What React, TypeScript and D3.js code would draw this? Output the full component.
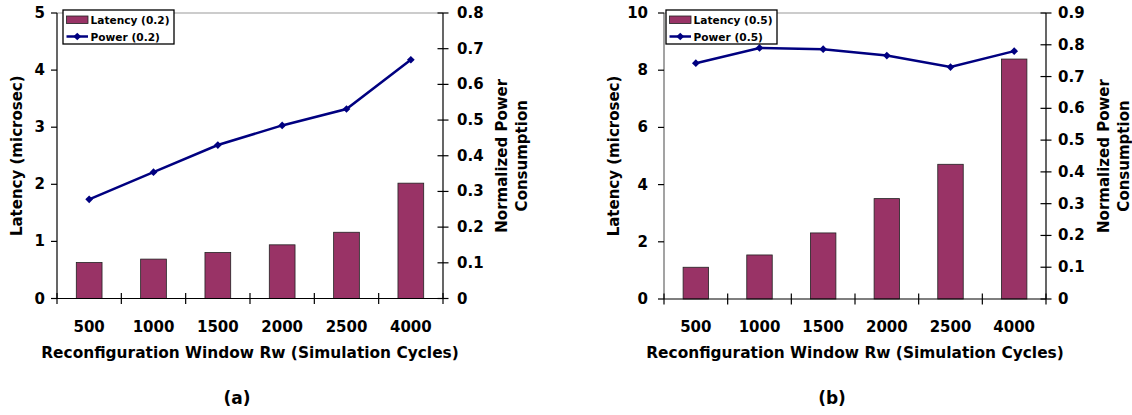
import React, { useEffect, useRef } from 'react';
import * as d3 from 'd3';

const categories = ['500', '1000', '1500', '2000', '2500', '4000'];

const latencyA = [0.63, 0.69, 0.805, 0.94, 1.16, 2.02];
const powerA = [0.278, 0.354, 0.43, 0.485, 0.531, 0.669];
const latencyTicksA = [0, 1, 2, 3, 4, 5];
const powerTicksA = [0, 0.1, 0.2, 0.3, 0.4, 0.5, 0.6, 0.7, 0.8];

const latencyB = [1.11, 1.54, 2.31, 3.51, 4.71, 8.39];
const powerB = [0.742, 0.79, 0.786, 0.766, 0.73, 0.78];
const latencyTicksB = [0, 2, 4, 6, 8, 10];
const powerTicksB = [0, 0.1, 0.2, 0.3, 0.4, 0.5, 0.6, 0.7, 0.8, 0.9];

const BAR = '#993366';
const LINE = '#000080';
const FONT = '"DejaVu Sans", Verdana, sans-serif';

const panels = [
  {
    latency: latencyA, power: powerA, lTicks: latencyTicksA, rTicks: powerTicksA,
    legendL: 'Latency (0.2)', legendP: 'Power (0.2)', caption: '(a)',
    left: 57, right: 443, top: 13, bottom: 298.5,
    lLabelX: 45, rLabelX: 457, yTitleX: 17, rTitleX: 501.5, legendX: 63, captionX: 237,
    leftAxisColor: '#000',
  },
  {
    latency: latencyB, power: powerB, lTicks: latencyTicksB, rTicks: powerTicksB,
    legendL: 'Latency (0.5)', legendP: 'Power (0.5)', caption: '(b)',
    left: 664, right: 1046, top: 13, bottom: 299,
    lLabelX: 648, rLabelX: 1058, yTitleX: 614, rTitleX: 1103.5, legendX: 666, captionX: 832,
    leftAxisColor: '#666',
  },
];

function drawPanel(svg, p) {
  const g = svg.append('g');
  const x = d3.scaleBand().domain(categories).range([p.left, p.right]).paddingInner(0.6).paddingOuter(0.3);
  const yL = d3.scaleLinear().domain([0, d3.max(p.lTicks)]).range([p.bottom, p.top]);
  const yR = d3.scaleLinear().domain([0, d3.max(p.rTicks)]).range([p.bottom, p.top]);
  const cx = (i) => x(categories[i]) + x.bandwidth() / 2;

  // plot area top border
  g.append('line')
    .attr('x1', p.left).attr('x2', p.right).attr('y1', p.top).attr('y2', p.top)
    .attr('stroke', '#999').attr('stroke-width', 1);

  // bars
  g.selectAll('rect.bar')
    .data(p.latency)
    .enter()
    .append('rect')
    .attr('class', 'bar')
    .attr('x', (d, i) => x(categories[i]))
    .attr('y', (d) => yL(d))
    .attr('width', x.bandwidth())
    .attr('height', (d) => yL(0) - yL(d))
    .attr('fill', BAR)
    .attr('stroke', '#222')
    .attr('stroke-width', 0.8);

  // left axis
  g.append('line')
    .attr('x1', p.left).attr('x2', p.left).attr('y1', p.top).attr('y2', p.bottom)
    .attr('stroke', p.leftAxisColor).attr('stroke-width', 1.2);
  p.lTicks.forEach((t) => {
    g.append('line')
      .attr('x1', p.left - 6).attr('x2', p.left).attr('y1', yL(t)).attr('y2', yL(t))
      .attr('stroke', '#000').attr('stroke-width', 1.2);
    g.append('text')
      .attr('x', p.lLabelX).attr('y', yL(t))
      .attr('text-anchor', 'end').attr('dominant-baseline', 'central')
      .style('font-size', '15px').style('font-weight', 'bold').style('font-family', FONT)
      .text(d3.format('d')(t));
  });

  // right axis
  g.append('line')
    .attr('x1', p.right).attr('x2', p.right).attr('y1', p.top).attr('y2', p.bottom)
    .attr('stroke', '#000').attr('stroke-width', 1.2);
  p.rTicks.forEach((t) => {
    g.append('line')
      .attr('x1', p.right - 5.5).attr('x2', p.right + 5.5).attr('y1', yR(t)).attr('y2', yR(t))
      .attr('stroke', '#000').attr('stroke-width', 1.2);
    g.append('text')
      .attr('x', p.rLabelX).attr('y', yR(t))
      .attr('text-anchor', 'start').attr('dominant-baseline', 'central')
      .style('font-size', '15px').style('font-weight', 'bold').style('font-family', FONT)
      .text(t === 0 ? '0' : d3.format('.1f')(t));
  });

  // x axis
  g.append('line')
    .attr('x1', p.left).attr('x2', p.right).attr('y1', p.bottom).attr('y2', p.bottom)
    .attr('stroke', '#000').attr('stroke-width', 1.2);
  d3.range(categories.length + 1).forEach((i) => {
    const bx = p.left + i * x.step();
    g.append('line')
      .attr('x1', bx).attr('x2', bx).attr('y1', p.bottom - 5.5).attr('y2', p.bottom + 5.5)
      .attr('stroke', '#000').attr('stroke-width', 1.2);
  });
  categories.forEach((c, i) => {
    g.append('text')
      .attr('x', cx(i)).attr('y', 326.5)
      .attr('text-anchor', 'middle').attr('dominant-baseline', 'central')
      .style('font-size', '15px').style('font-weight', 'bold').style('font-family', FONT)
      .text(c);
  });

  // power line
  const line = d3.line()
    .x((d, i) => cx(i))
    .y((d) => yR(d));
  g.append('path')
    .datum(p.power)
    .attr('d', line)
    .attr('fill', 'none')
    .attr('stroke', LINE)
    .attr('stroke-width', 2.5);
  const marker = d3.symbol().type(d3.symbolSquare).size(30);
  g.selectAll('path.mk')
    .data(p.power)
    .enter()
    .append('path')
    .attr('class', 'mk')
    .attr('d', marker)
    .attr('transform', (d, i) => `translate(${cx(i)}, ${yR(d)}) rotate(45)`)
    .attr('fill', LINE);

  // titles
  g.append('text')
    .attr('transform', `translate(${p.yTitleX}, ${(p.top + p.bottom) / 2}) rotate(-90)`)
    .attr('text-anchor', 'middle').attr('dominant-baseline', 'central')
    .style('font-size', '15px').style('font-weight', 'bold').style('font-family', FONT)
    .text('Latency (microsec)');
  ['Normalized Power', 'Consumption'].forEach((s, k) => {
    g.append('text')
      .attr('transform', `translate(${p.rTitleX + k * 20}, ${(p.top + p.bottom) / 2}) rotate(-90)`)
      .attr('text-anchor', 'middle').attr('dominant-baseline', 'central')
      .style('font-size', '15px').style('font-weight', 'bold').style('font-family', FONT)
      .text(s);
  });
  g.append('text')
    .attr('x', (p.left + p.right) / 2).attr('y', 353)
    .attr('text-anchor', 'middle').attr('dominant-baseline', 'central')
    .style('font-size', '15.4px').style('font-weight', 'bold').style('font-family', FONT)
    .text('Reconfiguration Window Rw (Simulation Cycles)');
  g.append('text')
    .attr('x', p.captionX).attr('y', 398)
    .attr('text-anchor', 'middle').attr('dominant-baseline', 'central')
    .style('font-size', '17px').style('font-weight', 'bold').style('font-family', FONT)
    .text(p.caption);

  // legend
  const lg = g.append('g').attr('transform', `translate(${p.legendX}, 10)`);
  lg.append('rect')
    .attr('x', 0).attr('y', 0).attr('width', 111).attr('height', 34)
    .attr('fill', '#fff').attr('stroke', '#000').attr('stroke-width', 1.3);
  lg.append('rect')
    .attr('x', 3.5).attr('y', 6).attr('width', 21.5).attr('height', 7.5)
    .attr('fill', BAR).attr('stroke', '#222').attr('stroke-width', 0.8);
  lg.append('line')
    .attr('x1', 3.5).attr('x2', 25).attr('y1', 26.5).attr('y2', 26.5)
    .attr('stroke', LINE).attr('stroke-width', 2.5);
  lg.append('path')
    .attr('d', marker)
    .attr('transform', 'translate(14.25, 26.5) rotate(45)')
    .attr('fill', LINE);
  [p.legendL, p.legendP].forEach((s, k) => {
    lg.append('text')
      .attr('x', 27.5).attr('y', 10 + k * 16.5)
      .attr('dominant-baseline', 'central')
      .style('font-size', '10.6px').style('font-weight', 'bold').style('font-family', FONT)
      .text(s);
  });
}

export default function App() {
  const ref = useRef(null);

  useEffect(() => {
    const root = d3.select(ref.current);
    root.select('svg').remove();
    const svg = root
      .append('svg')
      .attr('width', 1132)
      .attr('height', 415)
      .style('display', 'block')
      .style('background', '#fff');
    panels.forEach((p) => drawPanel(svg, p));
  }, []);

  return <div ref={ref} style={{ position: 'absolute', left: 0, top: 0 }}></div>;
}
